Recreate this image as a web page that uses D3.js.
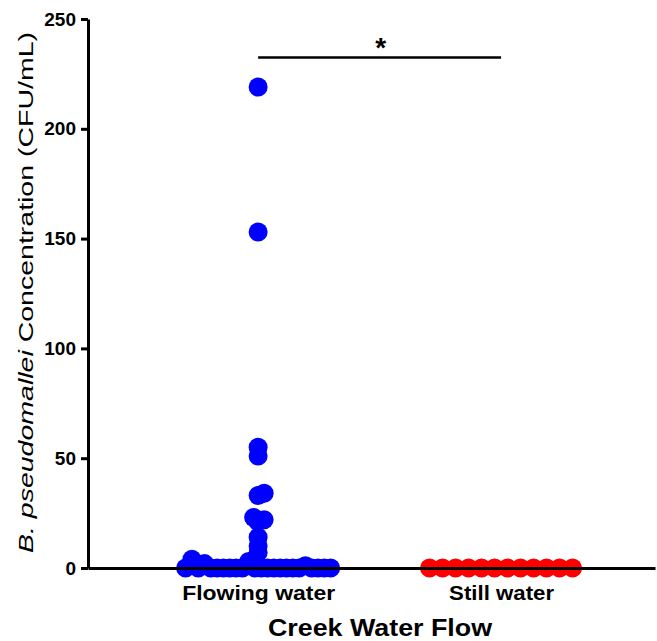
<!DOCTYPE html>
<html>
<head>
<meta charset="utf-8">
<script src="https://cdn.jsdelivr.net/npm/d3@7"></script>
<style>
  body { margin: 0; background: #fff; }
  svg { display: block; }
  text { font-family: "Liberation Sans", Arial, sans-serif; fill: #000; }
</style>
</head>
<body>
<svg id="chart" width="657" height="641"></svg>
<script>
// Creek samples: B. pseudomallei counts (CFU/mL) by water flow
const categories = ["Flowing water", "Still water"];
const flowingWater = [0, 4, 0, 2, 0, 0, 0, 0, 0, 0, 3, 0,
                      0, 0, 0, 0, 0, 0, 0, 1, 0, 0, 0, 0,
                      7, 10, 14, 21, 22, 23, 33, 34, 51, 55, 153, 219];
const stillWater = [0, 0, 0, 0, 0, 0, 0, 0, 0, 0, 0, 0];
const yTicks = [0, 50, 100, 150, 200, 250];
const seriesColors = ["#0000ff", "#ff0000"];
const significanceMark = "*";

const svg = d3.select("#chart");
const plotLeft = 88, plotRight = 655, plotTop = 19, plotBottom = 568;

const x = d3.scalePoint().domain(categories).range([plotLeft, plotRight])
  .padding(0.667).align(0.525);
const y = d3.scaleLinear().domain([0, 250]).range([plotBottom, plotTop]);

// Dot-plot layout: the low band is spread in one row (tightened when
// crowded), the rest is placed as a swarm around the category centre.
function swarm(values, cx) {
  const maxStep = 13, maxSpan = 145, minDist = 6, rowCut = 5;
  const placed = [];
  const base = values.filter(v => v < rowCut);
  const step = Math.min(maxStep, maxSpan / Math.max(1, base.length - 1));
  base.forEach((v, k) => {
    placed.push({ v, x: cx + (k - (base.length - 1) / 2) * step, y: y(v) });
  });
  values.filter(v => v >= rowCut).sort((a, b) => a - b).forEach(v => {
    const py = y(v);
    for (let t = 0; t < 400; t += 0.5) {
      const cands = t === 0 ? [0] : [t, -t];
      const hit = cands.find(dx => placed.every(p => Math.hypot(p.x - (cx + dx), p.y - py) >= minDist));
      if (hit !== undefined) { placed.push({ v, x: cx + hit, y: py }); break; }
    }
  });
  return placed;
}

const groups = [flowingWater, stillWater];
groups.forEach((vals, gi) => {
  const pts = swarm(vals, x(categories[gi]));
  svg.append("g").selectAll("circle").data(pts).join("circle")
    .attr("cx", d => d.x).attr("cy", d => d.y).attr("r", 9.5)
    .attr("fill", seriesColors[gi]);
});

// Y axis
const yAxis = svg.append("g").attr("transform", `translate(${plotLeft},0)`)
  .call(d3.axisLeft(y).tickValues(yTicks).tickSize(7).tickSizeOuter(0).tickPadding(5));
yAxis.select(".domain").attr("stroke", "#000").attr("stroke-width", 3);
yAxis.selectAll(".tick line").attr("stroke", "#000").attr("stroke-width", 3);
yAxis.selectAll(".tick text").style("font-family", "Liberation Sans, Arial, sans-serif")
  .style("font-size", "19px").style("font-weight", "bold").attr("fill", "#000");

// X axis
const xAxis = svg.append("g").attr("transform", `translate(0,${plotBottom})`)
  .call(d3.axisBottom(x).tickSize(0).tickSizeOuter(0).tickPadding(0));
xAxis.select(".domain").attr("stroke", "#000").attr("stroke-width", 3);
xAxis.selectAll(".tick text")
  .style("font-family", "Liberation Sans, Arial, sans-serif")
  .style("font-size", "20px").style("font-weight", "bold").attr("fill", "#000")
  .attr("dy", null).attr("y", 32)
  .attr("textLength", d => d === categories[0] ? 153 : 105)
  .attr("lengthAdjust", "spacingAndGlyphs");

// Axis titles
svg.append("text")
  .attr("x", 380).attr("y", 636)
  .attr("text-anchor", "middle")
  .style("font-size", "24px").style("font-weight", "bold")
  .attr("textLength", 224).attr("lengthAdjust", "spacingAndGlyphs")
  .text("Creek Water Flow");

const yTitle = svg.append("text")
  .attr("transform", "translate(33,292.5) rotate(-90)")
  .attr("text-anchor", "middle")
  .style("font-size", "20px")
  .attr("textLength", 521).attr("lengthAdjust", "spacingAndGlyphs");
yTitle.append("tspan").style("font-style", "italic").text("B. pseudomallei");
yTitle.append("tspan").text(" Concentration (CFU/mL)");

// Significance bracket
const sigY = 57.5;
svg.append("line")
  .attr("x1", x(categories[0])).attr("x2", x(categories[1]))
  .attr("y1", sigY).attr("y2", sigY)
  .attr("stroke", "#000").attr("stroke-width", 2.5);
svg.append("text")
  .attr("x", (x(categories[0]) + x(categories[1])) / 2 + 1)
  .attr("y", sigY - 1).attr("text-anchor", "middle")
  .style("font-size", "28px").style("font-weight", "bold")
  .text(significanceMark);
</script>
</body>
</html>
